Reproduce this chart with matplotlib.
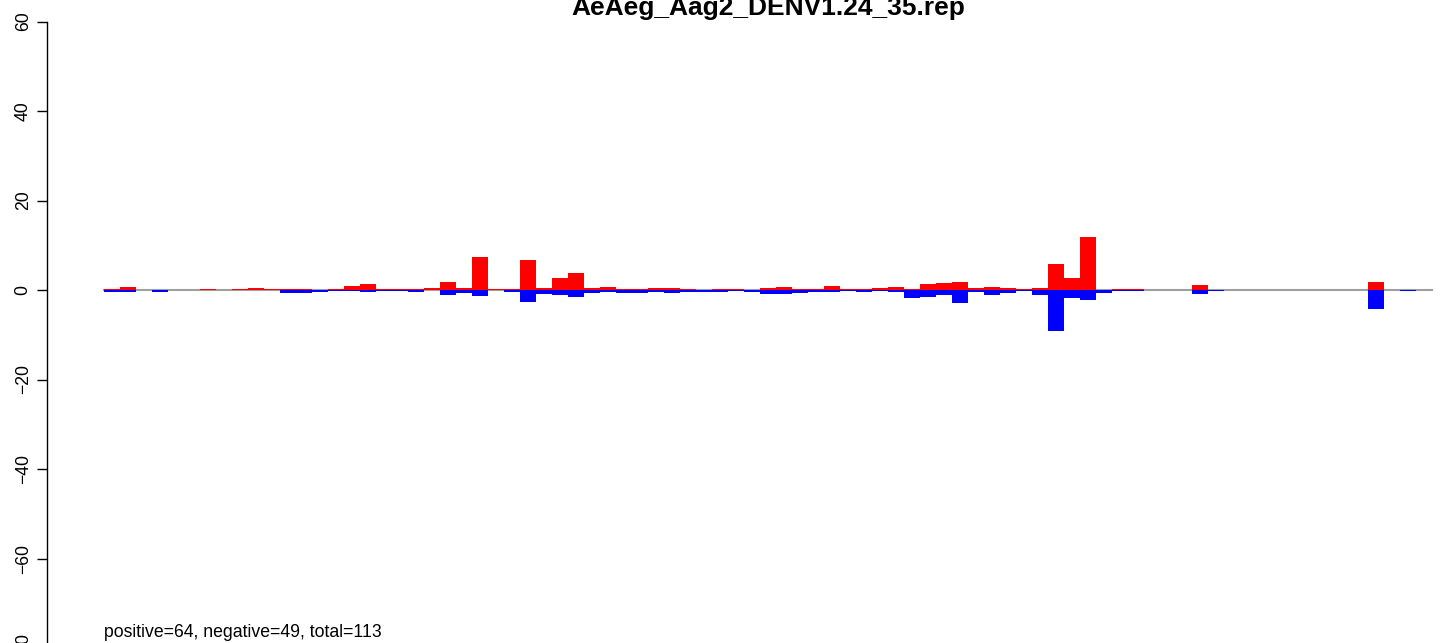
import numpy as np
import matplotlib.pyplot as plt

plt.rcParams['font.family'] = ['Liberation Sans', 'DejaVu Sans']

# Data (83 positions)
title = "AeAeg_Aag2_DENV1.24_35.rep"
note = "positive=64, negative=49, total=113"

positive = [0.22, 0.67, 0, 0, 0, 0, 0.25, 0.1, 0.25, 0.45,
            0.15, 0.22, 0.22, 0, 0.22, 0.9, 1.34, 0.22, 0.22, 0.22,
            0.45, 1.8, 0.45, 7.4, 0.22, 0.22, 6.7, 0.45, 2.7, 3.8,
            0.45, 0.67, 0.22, 0.22, 0.45, 0.45, 0.22, 0, 0.22, 0.22,
            0, 0.45, 0.67, 0.22, 0.22, 0.9, 0.22, 0.22, 0.45, 0.67,
            0.22, 1.34, 1.57, 1.8, 0.45, 0.67, 0.45, 0.22, 0.45, 5.8,
            2.7, 11.9, 0, 0.22, 0.22, 0, 0, 0, 1.1, 0,
            0, 0, 0, 0, 0, 0, 0, 0, 0, 1.8,
            0, 0, 0]

negative = [0.37, 0.37, 0, 0.37, 0, 0, 0, 0, 0, 0,
            0, 0.6, 0.6, 0.4, 0.22, 0.22, 0.45, 0.22, 0.22, 0.45,
            0, 1.1, 0.67, 1.34, 0, 0.45, 2.7, 0.9, 1.1, 1.6,
            0.67, 0.45, 0.67, 0.67, 0.45, 0.67, 0.45, 0.45, 0.45, 0.22,
            0.45, 0.9, 0.9, 0.67, 0.45, 0.45, 0.22, 0.45, 0.22, 0.45,
            1.8, 1.57, 1.1, 2.9, 0.45, 1.1, 0.67, 0.22, 1.1, 9.2,
            1.8, 2.24, 0.6, 0.22, 0.22, 0, 0, 0, 0.9, 0.22,
            0, 0, 0, 0, 0, 0, 0, 0, 0, 4.25,
            0, 0.22, 0]

yticks = [-80, -60, -40, -20, 0, 20, 40, 60]

W, H = 1441, 643
fig = plt.figure(figsize=(W / 100, H / 100), dpi=100)

# plot region: x from 47px to 1489px, y=60 at 21.5px, y=-80 at 648px
ax = fig.add_axes([47 / W, 1 - 648 / H, (1489 - 47) / W, (648 - 21.5) / H])
ax.set_xlim(-3.5625, 86.5625)
ax.set_ylim(-80, 60)

x = np.arange(len(positive))
ax.plot([0, len(positive)], [0, 0], color='#a0a0a0', lw=1.5, zorder=1)
ax.bar(x, positive, width=1, align='edge', color='#ff0000', linewidth=0, zorder=2)
ax.bar(x, -np.array(negative), width=1, align='edge', color='#0000ff', linewidth=0, zorder=2)

# R style axis: only the left one
for side in ['top', 'right', 'bottom']:
    ax.spines[side].set_visible(False)
ax.spines['left'].set_linewidth(1)
ax.set_xticks([])
ax.set_yticks(yticks)
ax.set_yticklabels([str(t).replace('-', '\u2212') for t in yticks],
                   rotation=90, va='center', fontsize=12.7)
ax.tick_params(axis='y', length=7, width=1, pad=4)

# title sits partly off the top edge, as in the reference
fig.text(768 / W, 1 - 15 / H, title, ha='center', va='baseline',
         fontsize=19, fontweight='bold')
fig.text(104 / W, 1 - 637 / H, note, ha='left', va='baseline', fontsize=12.7)

fig.savefig("out.png", dpi=100)
